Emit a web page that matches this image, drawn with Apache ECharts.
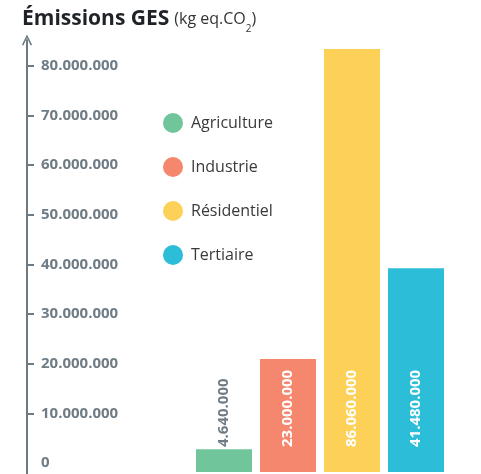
<!DOCTYPE html>
<html><head><meta charset="utf-8">
<script src="https://cdn.jsdelivr.net/npm/echarts@6/dist/echarts.min.js"></script>
<style>html,body{margin:0;padding:0;background:#fff}#c{width:481px;height:474px}</style>
</head><body><div id="c"></div>
<script>
var categories = ['Agriculture', 'Industrie', 'Résidentiel', 'Tertiaire'];
var values = [4640000, 23000000, 86060000, 41480000];
var colors = ['#70c59a', '#f4876e', '#fdd157', '#2cbdd8'];
var tickValues = [0, 10000000, 20000000, 30000000, 40000000, 50000000, 60000000, 70000000, 80000000];

function fmt(v) {
  return String(Math.round(v)).replace(/\B(?=(\d{3})+(?!\d))/g, '.');
}

var chart = echarts.init(document.getElementById('c'), null, {renderer: 'canvas'});
var FONT = 'Open Sans';
var series = categories.map(function (name, i) {
  return {
    name: name,
    type: 'bar',
    xAxisIndex: 1,
    yAxisIndex: 1,
    barWidth: 56,
    barGap: '-100%',
    itemStyle: {color: colors[i]},
    label: {
      show: true,
      position: 'insideBottom',
      rotate: 90,
      align: 'left',
      verticalAlign: 'middle',
      distance: 25,
      color: i === 0 ? '#6f7c85' : '#ffffff',
      fontFamily: FONT,
      fontWeight: 'bold',
      fontSize: 15,
      formatter: function (p) { return fmt(p.value); }
    },
    data: categories.map(function (c, j) { return j === i ? values[i] : null; })
  };
});

chart.setOption({
  animation: false,
  title: {
    left: 22, top: 9, padding: 0,
    text: '{a|Émissions GES} {b|(kg eq.CO}{c|2}{b|)}',
    textStyle: {
      rich: {
        a: {fontFamily: FONT, fontWeight: 'bold', fontSize: 21, color: '#1f2226'},
        b: {fontFamily: FONT, fontWeight: 'normal', fontSize: 16, color: '#333'},
        c: {fontFamily: FONT, fontWeight: 'normal', fontSize: 10, color: '#333', verticalAlign: 'bottom', padding: [0, 0, -4, 0]}
      }
    }
  },
  legend: {
    orient: 'vertical',
    left: 163, top: 113, padding: 0,
    itemWidth: 20, itemHeight: 20,
    itemGap: 24,
    icon: 'circle',
    textStyle: {fontFamily: FONT, fontSize: 16, color: '#3a3a3a', padding: [0, 0, 0, 3]},
    data: categories
  },
  grid: [
    {left: 27, top: 40, bottom: 0, width: 10},
    {left: 192, width: 256, top: 472 - 90 * 4.915, bottom: 2}
  ],
  xAxis: [
    {gridIndex: 0, type: 'category', show: false, data: ['']},
    {gridIndex: 1, type: 'category', show: false, data: categories}
  ],
  yAxis: [
    {
      gridIndex: 0, type: 'value', min: -2.2e6, max: 85.2e6,
      axisLine: {show: true, lineStyle: {color: '#6c7a83', width: 2},
        symbol: ['none', 'path://M0,10 L5,0 L10,10 L8.6,10.8 L5,3.2 L1.4,10.8 Z'], symbolSize: [11, 11], symbolOffset: [0, 0]},
      axisTick: {show: true, inside: true, length: 7, lineStyle: {color: '#6c7a83', width: 2},
        customValues: tickValues.slice(1)},
      axisLabel: {show: true, inside: true, margin: 14, color: '#6f7c85', fontFamily: FONT, fontWeight: 'bold', fontSize: 15,
        customValues: tickValues, formatter: function (v) { return fmt(v); }},
      splitLine: {show: false}
    },
    {gridIndex: 1, type: 'value', min: 0, max: 90e6, show: false, splitLine: {show: false}}
  ],
  series: series
});
</script></body></html>
